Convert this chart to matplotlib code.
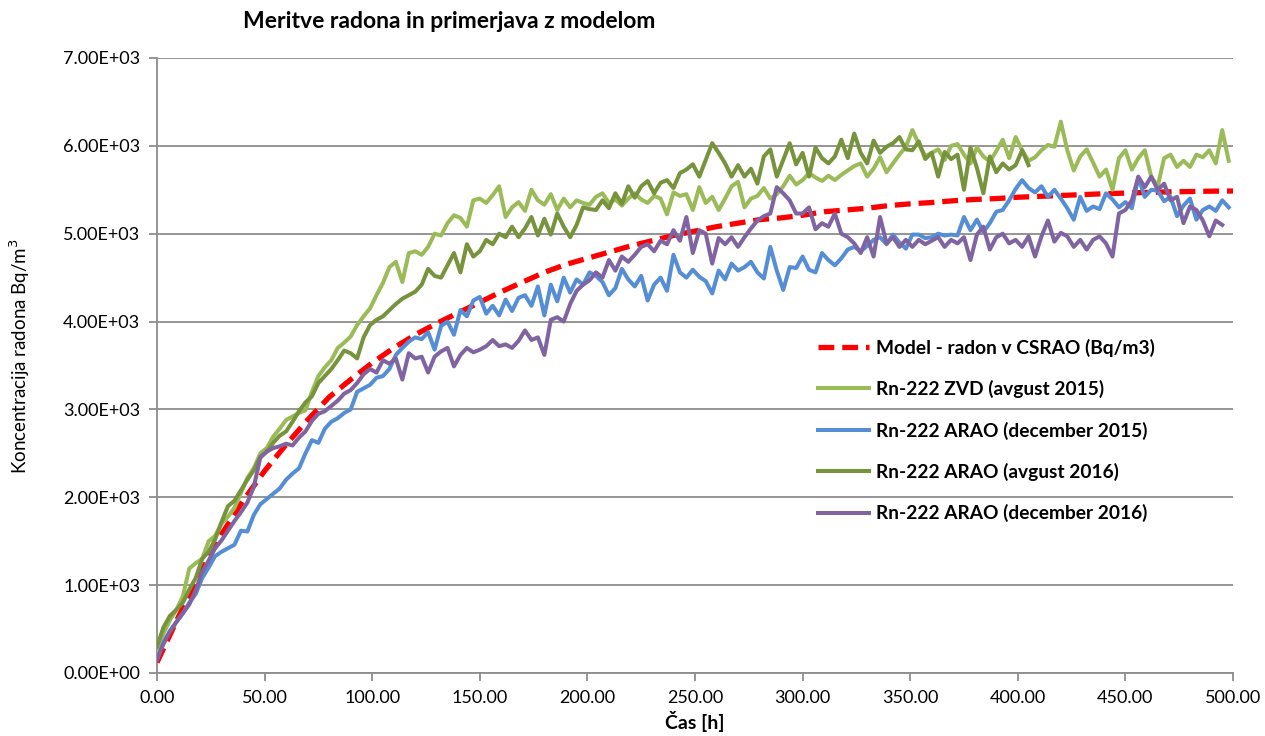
import numpy as np
import matplotlib
matplotlib.use("Agg")
import matplotlib.pyplot as plt
from matplotlib.ticker import FuncFormatter

plt.rcParams['font.family'] = ['Lato', 'DejaVu Sans']

# model curve, one value every 10 h
MODEL_STEP_H = 10
model_csrao = [120, 640, 1130, 1580, 1960, 2300, 2600, 2880, 3140, 3340,
               3530, 3700, 3850, 3980, 4100, 4220, 4340, 4450, 4560, 4650,
               4720, 4790, 4860, 4920, 4980, 5030, 5080, 5120, 5160, 5180,
               5210, 5250, 5270, 5290, 5320, 5340, 5355, 5375, 5390, 5400,
               5415, 5425, 5435, 5445, 5455, 5462, 5470, 5476, 5480, 5484, 5486]

# measurements, one value every 3 h
MEAS_STEP_H = 3
zvd_avg2015 = [250, 450, 600, 720, 870, 1190, 1250, 1300, 1500, 1560,
               1700, 1780, 1880, 2050, 2220, 2330, 2500, 2560, 2690, 2780,
               2880, 2920, 2960, 2990, 3200, 3380, 3480, 3560, 3700, 3760,
               3830, 3960, 4060, 4150, 4300, 4440, 4620, 4680, 4450, 4780,
               4800, 4760, 4850, 5000, 4980, 5120, 5210, 5180, 5080, 5380,
               5400, 5350, 5440, 5540, 5190, 5300, 5360, 5260, 5500, 5380,
               5330, 5450, 5270, 5400, 5300, 5380, 5350, 5330, 5420, 5460,
               5350, 5390, 5320, 5400, 5460, 5390, 5350, 5430, 5400, 5220,
               5470, 5430, 5450, 5270, 5530, 5350, 5420, 5270, 5400, 5540,
               5590, 5300, 5400, 5430, 5520, 5400, 5450, 5540, 5660, 5560,
               5610, 5690, 5640, 5600, 5660, 5610, 5670, 5720, 5770, 5800,
               5650, 5740, 5870, 5700, 5800, 5900, 5990, 6180, 6020, 5880,
               5920, 5960, 5840, 6000, 6020, 5900, 5800, 5980, 5880, 5820,
               5940, 6070, 5860, 6100, 5950, 5830, 5870, 5950, 6010, 5990,
               6275, 5950, 5720, 5880, 5960, 5810, 5650, 5730, 5500, 5860,
               5950, 5730, 5860, 5950, 5650, 5540, 5860, 5900, 5760, 5830,
               5760, 5900, 5870, 5950, 5800, 6180, 5830]

arao_dec2015 = [150, 350, 480, 580, 680, 800, 900, 1080, 1200, 1330,
                1380, 1420, 1460, 1620, 1610, 1800, 1920, 1980, 2040, 2100,
                2200, 2270, 2330, 2500, 2650, 2620, 2780, 2860, 2900, 2960,
                3000, 3200, 3240, 3280, 3360, 3380, 3460, 3620, 3700, 3770,
                3820, 3800, 3880, 3680, 3950, 4000, 3850, 4130, 4060, 4240,
                4280, 4090, 4180, 4070, 4250, 4120, 4270, 4300, 4180, 4400,
                4070, 4420, 4230, 4500, 4330, 4480, 4420, 4560, 4520, 4450,
                4300, 4380, 4600, 4480, 4400, 4520, 4240, 4420, 4500, 4350,
                4760, 4560, 4500, 4590, 4510, 4460, 4320, 4580, 4480, 4660,
                4580, 4620, 4680, 4560, 4490, 4850, 4580, 4360, 4620, 4610,
                4740, 4590, 4560, 4780, 4700, 4640, 4720, 4820, 4850, 4800,
                4860, 4930, 4960, 4880, 4990, 4900, 4830, 4990, 4990, 4950,
                4960, 5000, 4980, 4990, 4980, 5190, 5040, 5160, 5020, 5120,
                5250, 5270, 5380, 5510, 5610, 5520, 5470, 5540, 5420, 5500,
                5400, 5290, 5160, 5420, 5260, 5310, 5280, 5460, 5390, 5300,
                5360, 5290, 5640, 5420, 5500, 5490, 5370, 5420, 5200, 5320,
                5400, 5160, 5270, 5310, 5260, 5380, 5300]

arao_avg2016 = [300, 520, 650, 720, 800, 950, 1080, 1300, 1380, 1520,
                1720, 1900, 1960, 2080, 2200, 2310, 2460, 2520, 2620, 2700,
                2750, 2860, 2980, 3080, 3150, 3300, 3380, 3460, 3560, 3670,
                3640, 3580, 3820, 3960, 4020, 4060, 4130, 4200, 4260, 4300,
                4340, 4420, 4600, 4520, 4500, 4640, 4780, 4560, 4880, 4740,
                4800, 4930, 4880, 5000, 4960, 5080, 4960, 5060, 5190, 4980,
                5170, 4990, 5230, 5080, 4960, 5100, 5300, 5280, 5270, 5380,
                5290, 5460, 5340, 5540, 5410, 5540, 5600, 5460, 5580, 5610,
                5520, 5690, 5730, 5790, 5650, 5840, 6030, 5920, 5800, 5650,
                5780, 5650, 5740, 5570, 5880, 5960, 5650, 5840, 6030, 5790,
                5920, 5650, 5980, 5860, 5800, 5880, 6070, 5860, 6140, 5920,
                5800, 6060, 5920, 5990, 6030, 6100, 5960, 5950, 6050, 5850,
                5920, 5650, 5930, 5850, 5900, 5500, 5980, 5750, 5460, 5880,
                5700, 5800, 5730, 5780, 5950, 5780]

arao_dec2016 = [150, 330, 470, 580, 680, 780, 940, 1150, 1280, 1420,
                1510, 1620, 1730, 1830, 1940, 2120, 2450, 2520, 2560, 2580,
                2610, 2590, 2680, 2750, 2870, 2950, 2980, 3040, 3100, 3180,
                3220, 3300, 3400, 3460, 3420, 3560, 3520, 3580, 3340, 3640,
                3580, 3600, 3420, 3600, 3660, 3700, 3490, 3620, 3700, 3650,
                3680, 3720, 3790, 3720, 3740, 3700, 3780, 3900, 3790, 3820,
                3620, 4020, 4050, 4000, 4200, 4350, 4420, 4470, 4560, 4500,
                4700, 4580, 4740, 4680, 4760, 4850, 4880, 4800, 4920, 4880,
                5040, 4920, 5190, 4780, 5040, 5000, 4660, 4950, 4880, 4960,
                4850, 4960, 5060, 5150, 5200, 5230, 5530, 5460, 5380, 5230,
                5230, 5300, 5050, 5120, 5080, 5230, 5000, 4960, 4890, 4780,
                4960, 4740, 5190, 4890, 4960, 4850, 4930, 4850, 4930, 4880,
                4920, 4960, 4850, 4930, 4890, 4960, 4700, 4990, 5080, 4820,
                4960, 5000, 4890, 4930, 4850, 4970, 4740, 4970, 5150, 4910,
                5010, 4970, 4850, 4930, 4820, 4930, 4970, 4890, 4740, 5230,
                5270, 5380, 5650, 5530, 5650, 5500, 5570, 5380, 5420, 5120,
                5310, 5270, 5150, 4970, 5150, 5100]

labels = ["Model - radon v CSRAO (Bq/m3)",
          "Rn-222 ZVD (avgust 2015)",
          "Rn-222 ARAO (december 2015)",
          "Rn-222 ARAO (avgust 2016)",
          "Rn-222 ARAO (december 2016)"]

fig = plt.figure(figsize=(12.65, 7.36), dpi=100)
ax = fig.add_axes([0.1241, 0.0856, 0.8506, 0.8356])

t_model = np.arange(len(model_csrao)) * MODEL_STEP_H
ax.plot(t_model, model_csrao, color='#ff0000', lw=3.8,
        linestyle=(0, (3, 1.5)), label=labels[0], zorder=3)

series = [(zvd_avg2015, '#9bbb59'), (arao_dec2015, '#558ed5'),
          (arao_avg2016, '#77933c'), (arao_dec2016, '#8064a2')]
for i, (vals, col) in enumerate(series):
    t = np.arange(len(vals)) * MEAS_STEP_H
    ax.plot(t, vals, color=col, lw=2.9, label=labels[i + 1], zorder=4 + i)

ax.set_xlim(0, 500)
ax.set_ylim(0, 7000)
ax.set_xticks(np.arange(0, 501, 50))
ax.set_yticks(np.arange(0, 7001, 1000))
ax.xaxis.set_major_formatter(FuncFormatter(lambda v, p: f'{v:.2f}'))
ax.yaxis.set_major_formatter(FuncFormatter(lambda v, p: f'{v:.2E}'))

grey = '#8c8c8c'
ax.set_axisbelow(True)
ax.grid(axis='y', color=grey, lw=1.3)
for s in ['top', 'right']:
    ax.spines[s].set_visible(False)
for s in ['left', 'bottom']:
    ax.spines[s].set_color(grey)
    ax.spines[s].set_linewidth(1.3)
ax.tick_params(axis='both', direction='out', length=6, width=1.3, color=grey,
               labelsize=13, pad=6)

ax.set_xlabel('Čas [h]', fontsize=14, fontweight='bold', labelpad=4)
ax.set_ylabel('Koncentracija radona Bq/m$^3$', fontsize=13.5)
ax.yaxis.set_label_coords(-0.116, 0.515)
fig.text(243 / 1265, 1 - 22 / 736, 'Meritve radona in primerjava z modelom',
         fontsize=16.5, fontweight='bold', ha='left', va='center')

leg = ax.legend(loc='upper left', bbox_to_anchor=(0.598, 0.572), frameon=False,
                prop={'size': 13.8, 'weight': 'bold'}, handlelength=2.7,
                labelspacing=1.22, handletextpad=0.35)

fig.savefig('out.png', dpi=100)
